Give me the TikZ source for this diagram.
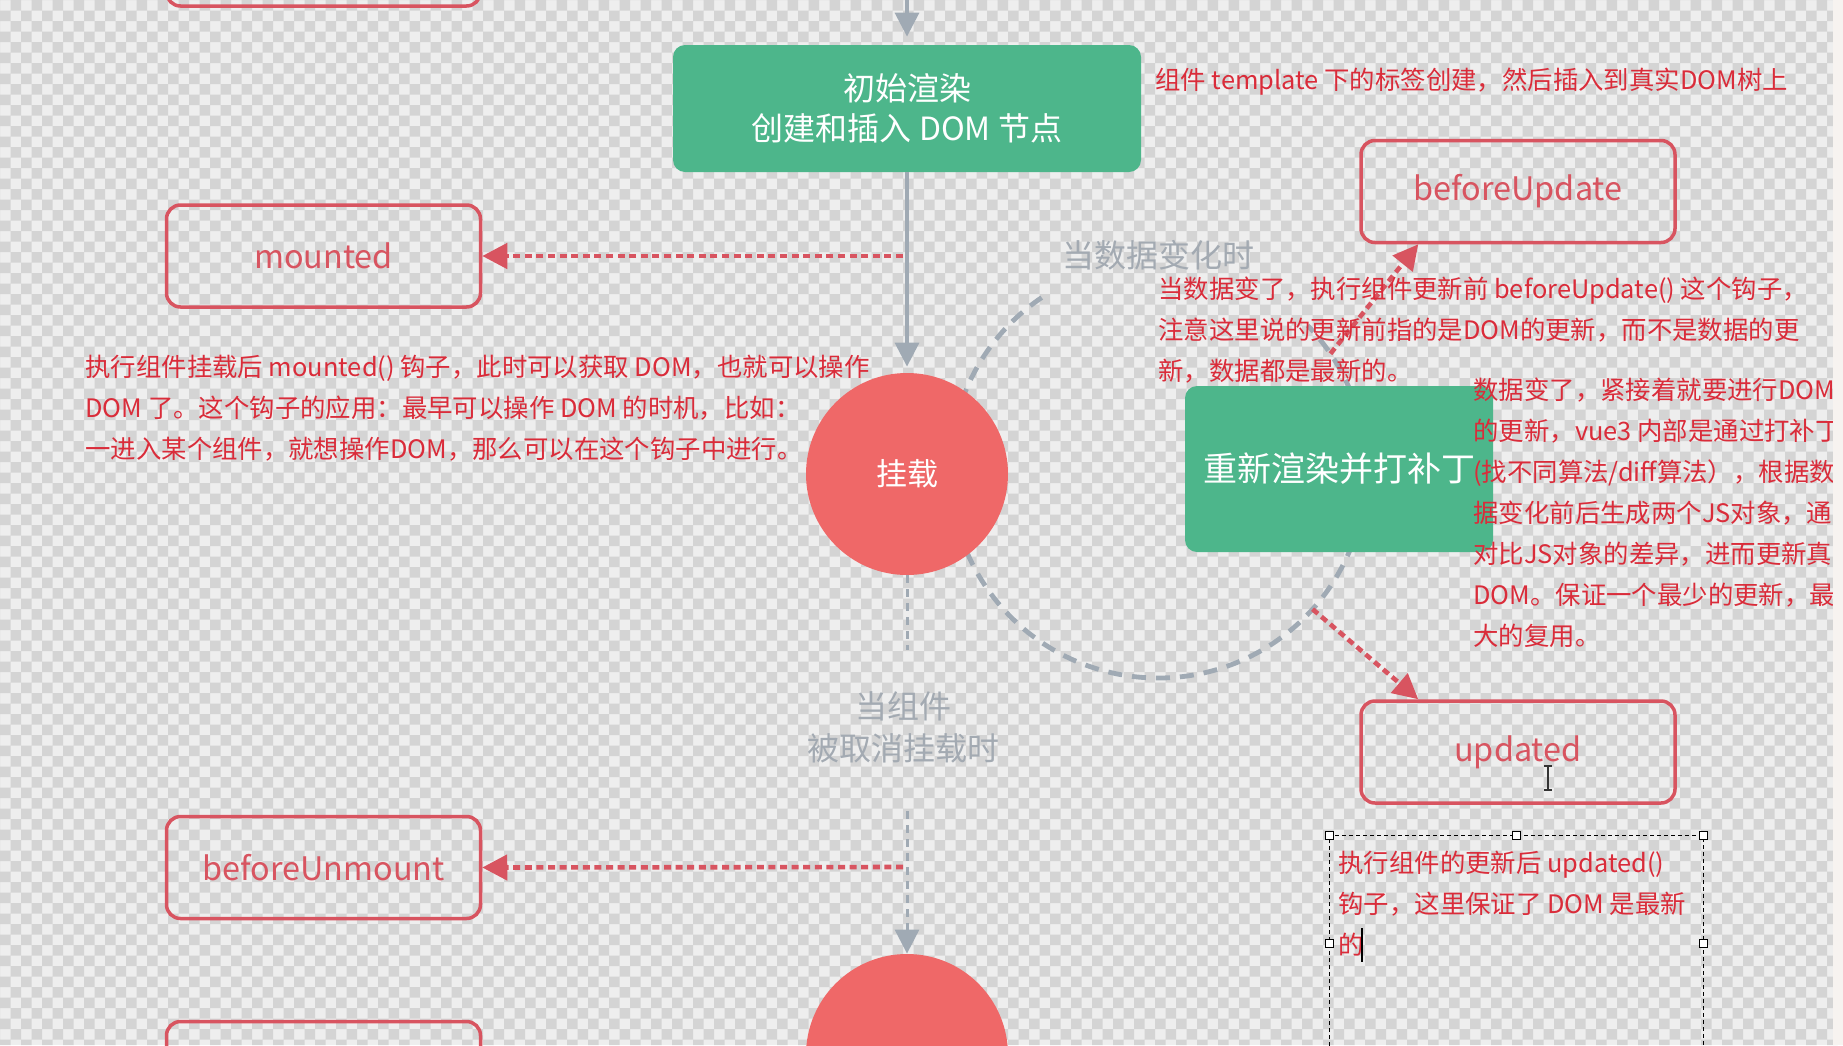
\documentclass[tikz,border=0pt]{standalone}
\usepackage{fontspec}
\setmainfont{Noto Sans CJK SC}
\usetikzlibrary{arrows.meta,positioning,calc}
\definecolor{hookred}{RGB}{216,84,96}
\definecolor{notered}{RGB}{218,44,58}
\definecolor{flowgray}{RGB}{160,170,180}
\definecolor{labelgray}{RGB}{163,170,178}
\definecolor{rendergreen}{RGB}{77,182,139}
\definecolor{mountred}{RGB}{239,104,104}
\definecolor{checkdark}{RGB}{212,212,212}
\definecolor{checklight}{RGB}{238,238,238}
\definecolor{stripbg}{RGB}{247,243,240}

\begin{document}
\begin{tikzpicture}[x=0.5pt, y=-0.5pt,
    hook/.style={draw=hookred, line width=1.75pt, rounded corners=7pt, text=hookred,
      minimum width=157pt, minimum height=51pt, font=\fontsize{16.2}{20}\selectfont},
    render/.style={fill=rendergreen, rounded corners=6pt, text=white},
    stage/.style={circle, fill=mountred, minimum size=101pt, inner sep=0pt, text=white,
      font=\fontsize{15.5}{18}\selectfont},
    note/.style={text=notered, align=left, inner sep=0pt, font=\fontsize{12.7}{20.5}\selectfont},
    tag/.style={text=labelgray, align=center, font=\fontsize{16}{21}\selectfont},
    flow/.style={draw=flowgray, line width=1.75pt, -{Triangle[length=12pt,width=12pt]}},
    hookline/.style={draw=hookred, line width=2.3pt, dash pattern=on 3.5pt off 2.3pt,
      -{Triangle[length=12.5pt,width=12.5pt]}},
  ]
    \useasboundingbox (0,0) rectangle (1843,1045);
    \fill[checklight] (0,0) rectangle (1843,1045);
    \fill[checkdark, even odd rule]
      \foreach \i in {0,2,...,176} {(\i*10.5,0) rectangle ++(10.5,1045)}
      \foreach \j in {0,2,...,100} {(0,\j*10.5) rectangle ++(1843,10.5)};

    \coordinate (loopC) at (1158,470);
    \draw[flowgray, line width=2.4pt, dash pattern=on 7pt off 5pt]
      (loopC) ++(-124:208) arc[start angle=-124, end angle=-404, radius=208];

    \node[hook] (prevHook) at (323.5,-45) {};
    \node[hook] (mounted) at (323.5,256) {mounted};
    \node[hook] (beforeUnmount) at (323.5,867.5) {beforeUnmount};
    \node[hook] (nextHook) at (323.5,1072.5) {};
    \node[hook] (beforeUpdate) at (1518,191.5) {\raisebox{-2.5pt}{beforeUpdate}};
    \node[hook] (updated) at (1518,752) {updated};

    \node[render, minimum width=234pt, minimum height=63.5pt, align=center,
      font=\fontsize{16}{20}\selectfont] (render) at (907,108.5) {初始渲染\\创建和插入 DOM 节点};
    \node[render, minimum width=154pt, minimum height=83pt,
      font=\fontsize{17}{20}\selectfont] (patch) at (1339,469) {重新渲染并打补丁};
    \node[stage] (mount) at (907,474) {挂载};
    \node[stage] (unmount) at (907,1055) {};

    \coordinate (entry) at (907,-10);
    \draw[flow, shorten >=4pt] (entry) -- (render.north);
    \draw[flow, shorten >=3pt] (render.south) -- (mount.north);
    \coordinate (dashEnd) at (907,650);
    \coordinate (dashStart) at (907,811);
    \draw[flowgray, line width=1.5pt, dash pattern=on 4pt off 3pt] (mount.south) -- (dashEnd);
    \draw[flow, line width=1.5pt, dash pattern=on 4pt off 3pt] (dashStart) -- (unmount.north);

    \node[tag] (dataChange) at (1158,255) {当数据变化时};
    \node[tag] (unmountTag) at (903,727) {当组件\\被取消挂载时};

    \coordinate (toMounted) at (903,256);
    \coordinate (toBeforeUnmount) at (903,867);
    \draw[hookline] (toMounted) -- (mounted.east);
    \draw[hookline] (toBeforeUnmount) -- (beforeUnmount.east);
    \draw[hookline] ($(loopC)+(-34:208)$) -- ($(beforeUpdate.south west)+(59,0)$);
    \draw[hookline] ($(loopC)+(42:208)$) -- ($(updated.north west)+(59,0)$);

    \node[note, anchor=west] (tplNote) at (1155,82) {组件 template 下的标签创建，然后插入到真实DOM树上};
    \node[note, anchor=north west] (mountedNote) at (85,355) {执行组件挂载后 mounted() 钩子，此时可以获取 DOM，也就可以操作\\DOM 了。这个钩子的应用：最早可以操作 DOM 的时机，比如：\\一进入某个组件，就想操作DOM，那么可以在这个钩子中进行。};
    \node[note, anchor=north west] (buNote) at (1158,277) {当数据变了，执行组件更新前 beforeUpdate() 这个钩子，\\注意这里说的更新前指的是DOM的更新，而不是数据的更\\新，数据都是最新的。};
    \node[note, anchor=north west] (patchNote) at (1473,378) {数据变了，紧接着就要进行DOM\\的更新，vue3 内部是通过打补丁\\(找不同算法/diff算法），根据数\\据变化前后生成两个JS对象，通过\\对比JS对象的差异，进而更新真实\\DOM。保证一个最少的更新，最\\大的复用。};

    \draw[black, line width=0.5pt, dash pattern=on 2pt off 1.5pt]
      (1329,1060) -- (1329,835) -- (1703,835) -- (1703,1060);
    \foreach \p in {(1329,835),(1516,835),(1703,835),(1329,943),(1703,943)}
      \draw[fill=white, line width=0.5pt] \p ++(-4,-4) rectangle ++(8,8);
    \node[note, anchor=north west] (udNote) at (1338,851) {执行组件的更新后 updated()\\钩子，这里保证了 DOM 是最新\\的};
    \draw[black, line width=0.6pt] (1362,928) -- (1362,962);
    \draw[black!80, line width=0.6pt] (1548,766) -- (1548,790) (1544,766) -- (1552,766) (1544,790) -- (1552,790);

    \fill[stripbg] (1833,0) rectangle (1843,1045);
\end{tikzpicture}
\end{document}
